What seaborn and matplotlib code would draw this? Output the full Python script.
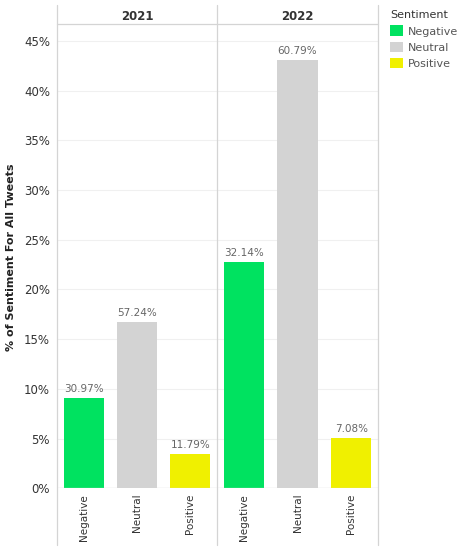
import matplotlib
matplotlib.use("Agg")
import matplotlib.pyplot as plt
import seaborn as sns
import pandas as pd
from matplotlib.patches import Patch
from matplotlib.lines import Line2D

sns.set_style("white")
plt.rcParams["font.family"] = ["DejaVu Sans"]

# data
years = ["2021", "2022"]
sentiments = ["Negative", "Neutral", "Positive"]
# % of all tweets (bar height)
share_2021 = [9.05, 16.73, 3.45]
share_2022 = [22.75, 43.03, 5.01]
# % within the year (bar label)
label_2021 = ["30.97%", "57.24%", "11.79%"]
label_2022 = ["32.14%", "60.79%", "7.08%"]

colors = {"Negative": "#00E260", "Neutral": "#D3D3D3", "Positive": "#F0F000"}
grid_c = "#D4D4D4"

df = pd.DataFrame({
    "Year": [y for y in years for _ in sentiments],
    "Sentiment": sentiments * 2,
    "Share": share_2021 + share_2022,
    "Label": label_2021 + label_2022,
})

W, H = 459, 550
fig = plt.figure(figsize=(W / 100, H / 100), dpi=100)

x0, xm, x1 = 57, 217, 378
ytop, ybot = 24, 488.3
axes = []
for i, yr in enumerate(years):
    left = (x0 if i == 0 else xm) / W
    width = (xm - x0 if i == 0 else x1 - xm) / W
    ax = fig.add_axes([left, 1 - ybot / H, width, (ybot - ytop) / H])
    sub = df[df["Year"] == yr]
    sns.barplot(data=sub, x="Sentiment", y="Share", hue="Sentiment",
                palette=colors, order=sentiments, width=0.75,
                legend=False, ax=ax, saturation=1, linewidth=0)
    for bar, lab in zip(ax.patches, sub["Label"]):
        ax.annotate(lab, (bar.get_x() + bar.get_width() / 2, bar.get_height()),
                    xytext=(0, 3), textcoords="offset points",
                    ha="center", va="bottom", fontsize=7.5, color="#666666")
    ax.set_xlim(-0.5, 2.5)
    ax.set_ylim(0, 46.7)
    ax.set_yticks(range(0, 46, 5))
    ax.yaxis.grid(True, color="#F0F0F0", linewidth=0.8)
    ax.set_axisbelow(True)
    ax.set_xlabel("")
    ax.set_ylabel("")
    for s in ax.spines.values():
        s.set_visible(False)
    ax.axhline(0, color=grid_c, linewidth=0.9)
    ax.tick_params(axis="x", length=0, labelrotation=90, labelsize=7.5,
                   labelcolor="#333333", pad=4)
    if i == 0:
        ax.set_yticks(range(0, 46, 5))
        ax.set_yticklabels([f"{v}%" for v in range(0, 46, 5)])
        ax.tick_params(axis="y", length=0, labelsize=8.5, labelcolor="#333333", pad=5)
    else:
        ax.tick_params(axis="y", length=0, labelleft=False)
    fig.text(((x0 if i == 0 else xm) + (xm if i == 0 else x1)) / 2 / W, 1 - 16 / H, yr,
             ha="center", va="center", fontsize=8.5, fontweight="bold", color="#333333")
    axes.append(ax)

fig.text(11.5 / W, 1 - 257 / H, "% of Sentiment For All Tweets", rotation=90,
         ha="center", va="center", fontsize=8, fontweight="bold", color="#222222")

# panel frame lines
for xv in (x0, xm, x1):
    fig.add_artist(Line2D([xv / W, xv / W], [1 - 5 / H, 1 - 545 / H],
                          color=grid_c, linewidth=0.9))
fig.add_artist(Line2D([x0 / W, x1 / W], [1 - ytop / H, 1 - ytop / H],
                      color=grid_c, linewidth=0.9))

handles = [Patch(facecolor=colors[s], edgecolor="none", label=s) for s in sentiments]
leg = fig.legend(handles=handles, title="Sentiment", loc="upper left",
                 bbox_to_anchor=(386 / W, 1 - 6 / H), frameon=False,
                 fontsize=8, title_fontsize=8, handlelength=1.1, handleheight=1.1,
                 handletextpad=0.5, labelspacing=0.45, borderaxespad=0)
leg._legend_box.align = "left"
for t in leg.get_texts():
    t.set_color("#555555")
leg.get_title().set_color("#333333")

fig.savefig("out.png", dpi=100)
